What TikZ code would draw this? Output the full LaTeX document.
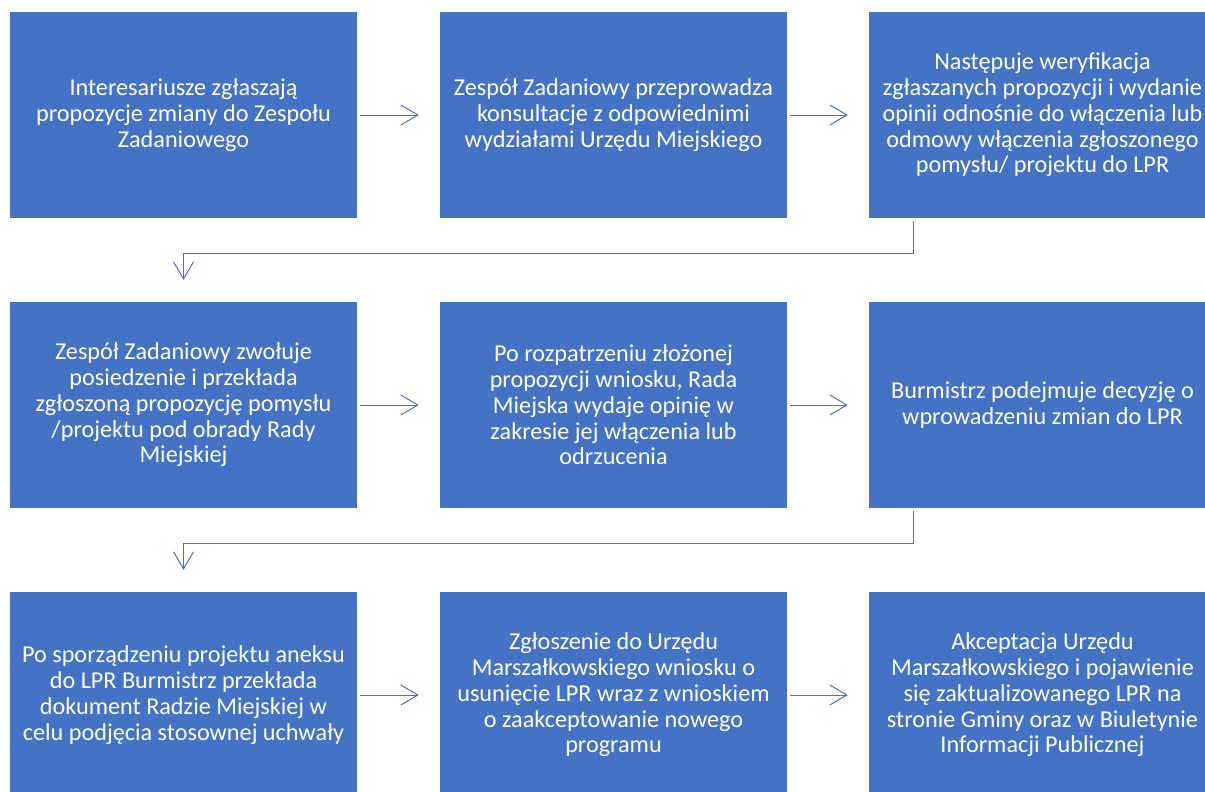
\documentclass[tikz,border=0pt]{standalone}
\usepackage{fontspec}
\setmainfont{Carlito}
\usetikzlibrary{arrows.meta}
\definecolor{boxblue}{HTML}{4472C4}
\tikzset{
  stepbox/.style={rectangle, fill=boxblue, draw=none, text=white, minimum width=347pt, minimum height=206pt, inner sep=0pt, align=center, font=\fontsize{24.2pt}{25.8pt}\selectfont},
  arr/.style={draw=boxblue, line width=1pt, -{Straight Barb[length=17pt,width=20pt,line width=1pt]}},
}
\begin{document}
\begin{tikzpicture}[x=1pt,y=-1pt]
\useasboundingbox (0,0) rectangle (1205,792);
\clip (0,0) rectangle (1205,792);
\node[stepbox] (a) at (183.5,115) {Interesariusze zgłaszają\\propozycje zmiany do Zespołu\\Zadaniowego};
\node[stepbox] (b) at (613.5,115) {Zespół Zadaniowy przeprowadza\\konsultacje z odpowiednimi\\wydziałami Urzędu Miejskiego};
\node[stepbox] (c) at (1042.5,115) {Następuje weryfikacja\\zgłaszanych propozycji i wydanie\\opinii odnośnie do włączenia lub\\odmowy włączenia zgłoszonego\\pomysłu/ projektu do LPR};
\node[stepbox] (d) at (183.5,405) {Zespół Zadaniowy zwołuje\\posiedzenie i przekłada\\zgłoszoną propozycję pomysłu\\/projektu pod obrady Rady\\Miejskiej};
\node[stepbox] (e) at (613.5,405) {Po rozpatrzeniu złożonej\\propozycji wniosku, Rada\\Miejska wydaje opinię w\\zakresie jej włączenia lub\\odrzucenia};
\node[stepbox] (f) at (1042.5,405) {Burmistrz podejmuje decyzję o\\wprowadzeniu zmian do LPR};
\node[stepbox] (g) at (183.5,695) {Po sporządzeniu projektu aneksu\\do LPR Burmistrz przekłada\\dokument Radzie Miejskiej w\\celu podjęcia stosownej uchwały};
\node[stepbox] (h) at (613.5,695) {Zgłoszenie do Urzędu\\Marszałkowskiego wniosku o\\usunięcie LPR wraz z wnioskiem\\o zaakceptowanie nowego\\programu};
\node[stepbox] (i) at (1042.5,695) {Akceptacja Urzędu\\Marszałkowskiego i pojawienie\\się zaktualizowanego LPR na\\stronie Gminy oraz w Biuletynie\\Informacji Publicznej};
\draw[arr, shorten <=3pt, shorten >=21pt] (a.east) -- (b.west);
\draw[arr, shorten <=3pt, shorten >=21pt] (b.east) -- (c.west);
\draw[arr, shorten <=3pt, shorten >=21pt] (d.east) -- (e.west);
\draw[arr, shorten <=3pt, shorten >=21pt] (e.east) -- (f.west);
\draw[arr, shorten <=3pt, shorten >=21pt] (g.east) -- (h.west);
\draw[arr, shorten <=3pt, shorten >=21pt] (h.east) -- (i.west);
\draw[arr, shorten <=3pt, shorten >=22pt] ([xshift=45pt]c.south west) -- ++(0,35) -| (d.north);
\draw[arr, shorten <=3pt, shorten >=22pt] ([xshift=45pt]f.south west) -- ++(0,35) -| (g.north);
\end{tikzpicture}
\end{document}
